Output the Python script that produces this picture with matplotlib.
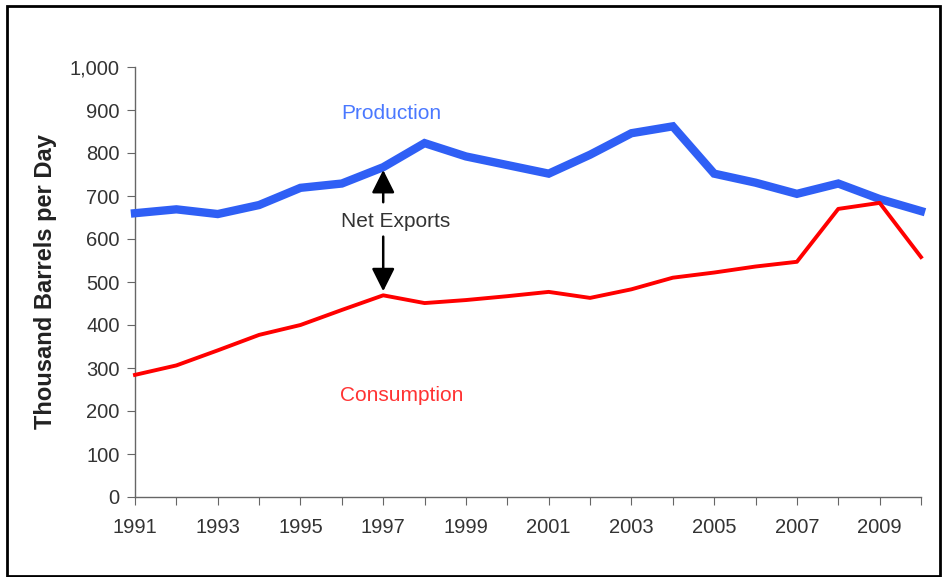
import matplotlib
matplotlib.use("Agg")
import matplotlib.pyplot as plt
from matplotlib.patches import Rectangle

years = list(range(1991, 2011))
production = [660, 669, 658, 679, 719, 729, 767, 823, 792, 772, 752, 796, 846, 862,
              752, 731, 705, 729, 693, 665]
consumption = [284, 306, 341, 377, 400, 435, 469, 451, 458, 467, 477, 463, 483, 510,
               522, 536, 547, 670, 684, 558]
xtick_labels = [str(y) if y % 2 == 1 else "" for y in years]
yticks = list(range(0, 1001, 100))

plt.rcParams['font.family'] = ['Liberation Sans', 'DejaVu Sans']

fig = plt.figure(figsize=(9.46, 5.77), dpi=100)
ax = fig.add_axes([135/946, 1 - 497/577, (921-135)/946, (497-67)/577])

ax.plot(years, production, color='#2f5ff5', lw=6.0, solid_joinstyle='miter',
        zorder=3, clip_on=False)
ax.plot(years, consumption, color='#ff0000', lw=2.8, zorder=3, clip_on=False)

ax.set_xlim(1991, 2010)
ax.set_ylim(0, 1000)
ax.set_xticks(years)
ax.set_xticklabels(xtick_labels)
ax.set_yticks(yticks)
ax.set_yticklabels([f"{v:,}" for v in yticks])

for s in ['top', 'right']:
    ax.spines[s].set_visible(False)
for s in ['left', 'bottom']:
    ax.spines[s].set_color('#666666')
    ax.spines[s].set_linewidth(1.0)
ax.tick_params(axis='both', direction='out', length=6, color='#666666',
               labelsize=14.5, labelcolor='#333333')
ax.tick_params(axis='x', pad=9)
ax.tick_params(axis='y', pad=5)

ax.set_ylabel("Thousand Barrels per Day", fontsize=17, fontweight='bold',
              color='#222222', labelpad=9)

ax.text(1997.2, 893, "Production", color='#4a78ff', fontsize=15, ha='center', va='center')
ax.text(1997.45, 237, "Consumption", color='#ff3333', fontsize=15, ha='center', va='center')
ax.text(1997.3, 640, "Net Exports", color='#333333', fontsize=15, ha='center', va='center')

ax.annotate("", xy=(1997, 767), xytext=(1997, 679),
            arrowprops=dict(arrowstyle='-|>,head_length=0.7,head_width=0.35',
                            color='black', lw=1.8, mutation_scale=20))
ax.annotate("", xy=(1997, 472), xytext=(1997, 612),
            arrowprops=dict(arrowstyle='-|>,head_length=0.7,head_width=0.35',
                            color='black', lw=1.8, mutation_scale=20))

fig.patches.append(Rectangle((7/946, 1 - 576/577), (940-7)/946, (576-6)/577,
                             transform=fig.transFigure, fill=False,
                             edgecolor='black', lw=2.0))

fig.savefig("out.png", dpi=100)
